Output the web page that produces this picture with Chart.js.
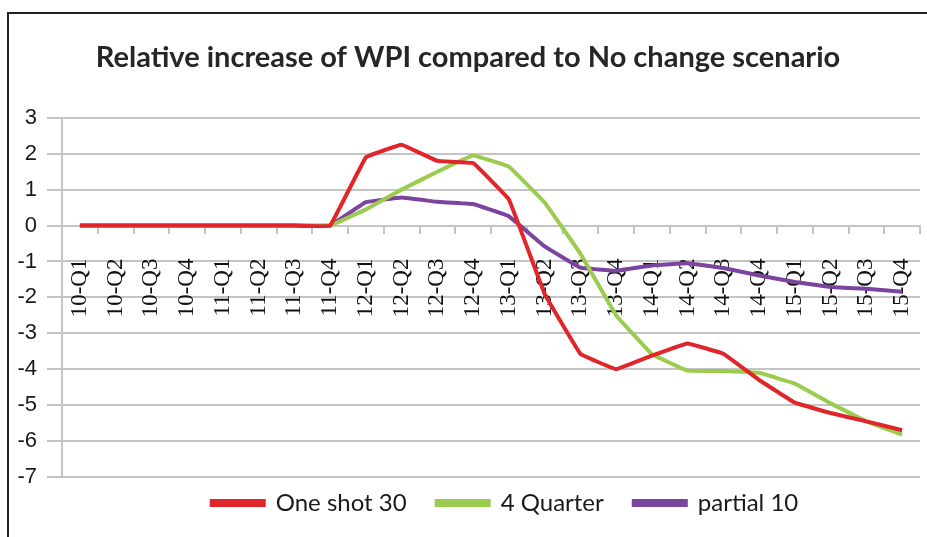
<!DOCTYPE html>
<html>
<head>
<meta charset="utf-8">
<script src="https://cdn.jsdelivr.net/npm/chart.js@4.4.1/dist/chart.umd.min.js"></script>
<style>
    html, body { margin: 0; padding: 0; background: #fff; }
    #wrap { position: relative; width: 927px; height: 537px; overflow: hidden; }
    #frame {
        position: absolute; left: 7px; top: 12px; right: -10px; bottom: -10px;
        border-left: 2px solid #222; border-top: 2px solid #222;
        pointer-events: none;
    }
    canvas { position: absolute; left: 0; top: 0; }
</style>
</head>
<body>
<div id="wrap">
    <canvas id="wpiChart" width="927" height="537"></canvas>
    <div id="frame"></div>
</div>
<script>
// trimestres 2010 - 2015
const trimestres = [
    '10-Q1', '10-Q2', '10-Q3', '10-Q4', '11-Q1', '11-Q2', '11-Q3', '11-Q4',
    '12-Q1', '12-Q2', '12-Q3', '12-Q4', '13-Q1', '13-Q2', '13-Q3', '13-Q4',
    '14-Q1', '14-Q2', '14-Q3', '14-Q4', '15-Q1', '15-Q2', '15-Q3', '15-Q4'
];

const oneShot30 = [0, 0, 0, 0, 0, 0, 0, 0,
    1.9, 2.25, 1.8, 1.74, 0.73, -1.9, -3.57, -4.0,
    -3.62, -3.28, -3.57, -4.3, -4.93, -5.22, -5.45, -5.7];

const quarter4 = [0, 0, 0, 0, 0, 0, 0, 0,
    0.45, 1.0, 1.5, 1.95, 1.64, 0.64, -0.78, -2.5,
    -3.58, -4.04, -4.05, -4.1, -4.4, -4.95, -5.45, -5.82];

const partial10 = [0, 0, 0, 0, 0, 0, 0, 0,
    0.65, 0.78, 0.66, 0.6, 0.26, -0.58, -1.17, -1.26,
    -1.11, -1.05, -1.18, -1.39, -1.57, -1.71, -1.76, -1.84];

const yTicks = [3, 2, 1, 0, -1, -2, -3, -4, -5, -6, -7];

const CINZA = '#c4c4c4';

// desloca legenda / titulo para bater com o original
const shiftPlugin = {
    id: 'shiftBoxes',
    afterLayout(chart) {
        chart.legend.left += 45;
        chart.legend.right += 45;
        chart.legend.top -= 16;
        chart.legend.bottom -= 16;
        chart.titleBlock.left += 8;
        chart.titleBlock.right += 8;
    }
};

function serie(label, data, cor) {
    return {
        label: label,
        data: data,
        borderColor: cor,
        backgroundColor: cor,
        borderWidth: 4,
        pointRadius: 0,
        tension: 0.05,
        fill: false
    };
}

const ctx = document.getElementById('wpiChart').getContext('2d');

new Chart(ctx, {
    type: 'line',
    data: {
        labels: trimestres,
        datasets: [
            serie('One shot 30', oneShot30, '#e0262b'),
            serie('4 Quarter', quarter4, '#9bcb4f'),
            serie('partial 10', partial10, '#7b449e')
        ]
    },
    options: {
        responsive: false,
        animation: false,
        layout: { padding: { left: 0, right: 7, top: 0, bottom: -4 } },
        plugins: {
            title: {
                display: true,
                text: 'Relative increase of WPI compared to No change scenario',
                color: '#262626',
                font: { family: 'Lato', size: 29, weight: 'bold' },
                padding: { top: 40, bottom: 43 }
            },
            legend: {
                position: 'bottom',
                labels: {
                    color: '#1a1a1a',
                    font: { family: 'Lato', size: 24 },
                    boxWidth: 52,
                    boxHeight: 4,
                    padding: 30
                }
            },
            tooltip: { enabled: false }
        },
        scales: {
            x: {
                position: { y: 0 },
                offset: true,
                afterFit(scale) { scale.paddingLeft = 0; scale.paddingRight = 0; },
                grid: {
                    drawOnChartArea: false,
                    drawTicks: true,
                    tickLength: 7,
                    offset: true,
                    color: CINZA,
                    lineWidth: 2
                },
                border: { color: CINZA, width: 2 },
                ticks: {
                    autoSkip: false,
                    minRotation: 90,
                    maxRotation: 90,
                    padding: 26,
                    color: '#111',
                    font: { family: 'Liberation Serif', size: 23 }
                }
            },
            y: {
                min: -7,
                max: 3,
                afterFit(scale) { scale.width = 62; },
                afterBuildTicks(scale) { scale.ticks = yTicks.map(v => ({ value: v })); },
                grid: { color: CINZA, lineWidth: 2, tickLength: 15 },
                border: { color: CINZA, width: 2 },
                ticks: {
                    padding: 10,
                    color: '#1a1a1a',
                    font: { family: 'Liberation Sans', size: 22 }
                }
            }
        }
    },
    plugins: [shiftPlugin]
});
</script>
</body>
</html>
